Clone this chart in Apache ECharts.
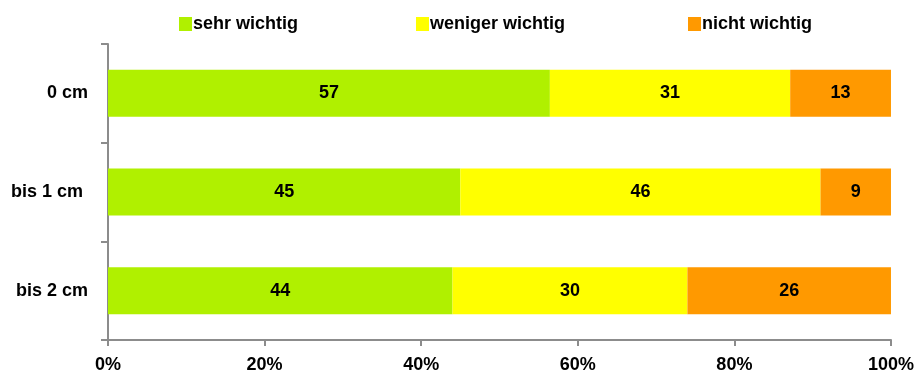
<!DOCTYPE html>
<html>
<head>
<meta charset="utf-8">
<script src="https://cdn.jsdelivr.net/npm/echarts@6/dist/echarts.min.js"></script>
<style>
  html, body { margin: 0; padding: 0; background: #fff; }
  #chart { width: 917px; height: 374px; }
</style>
</head>
<body>
<div id="chart"></div>
<script>
// Rows (top to bottom) and answer counts per row
const categories = ['0 cm', 'bis 1 cm ', 'bis 2 cm'];
const seriesNames = ['sehr wichtig', 'weniger wichtig', 'nicht wichtig'];
const sehrWichtig = [57, 45, 44];
const wenigerWichtig = [31, 46, 30];
const nichtWichtig = [13, 9, 26];
const xTicks = [0, 20, 40, 60, 80, 100];

const colors = ['#B0F000', '#FFFF00', '#FF9900'];
const values = [sehrWichtig, wenigerWichtig, nichtWichtig];

// Each row is scaled to 100 % of its own total
const rowTotals = categories.map((_, i) => values.reduce((s, arr) => s + arr[i], 0));

const FONT = '"Liberation Sans", Arial, sans-serif';
const FS = 18;
const axisColor = '#8c8c8c';

const legendLefts = [174, 411, 683];

const option = {
  animation: false,
  textStyle: { fontFamily: FONT },
  legend: seriesNames.map((name, k) => ({
    data: [name],
    left: legendLefts[k],
    top: 10,
    icon: 'rect',
    itemWidth: 13,
    itemHeight: 14,
    selectedMode: false,
    textStyle: {
      fontFamily: FONT,
      fontSize: FS,
      fontWeight: 'bold',
      color: '#000',
      padding: [0, 0, 0, -4]
    }
  })),
  grid: { left: 108, right: 25, top: 44, bottom: 32 },
  xAxis: {
    type: 'value',
    min: 0,
    max: 100,
    interval: 20,
    splitLine: { show: false },
    axisLine: { show: true, lineStyle: { color: axisColor, width: 2 } },
    axisTick: { show: true, length: 6, lineStyle: { color: axisColor, width: 2 } },
    axisLabel: {
      margin: 16,
      fontFamily: FONT,
      fontSize: FS,
      fontWeight: 'bold',
      color: '#000',
      formatter: v => (xTicks.includes(v) ? v + '%' : '')
    }
  },
  yAxis: {
    type: 'category',
    data: categories,
    inverse: true,
    axisLine: { show: true, lineStyle: { color: axisColor, width: 2 } },
    axisTick: { show: true, length: 7, lineStyle: { color: axisColor, width: 2 } },
    axisLabel: {
      margin: 20,
      fontFamily: FONT,
      fontSize: FS,
      fontWeight: 'bold',
      color: '#000'
    }
  },
  series: seriesNames.map((name, k) => ({
    name: name,
    type: 'bar',
    stack: 'total',
    barWidth: 47,
    itemStyle: { color: colors[k] },
    label: {
      show: true,
      position: 'inside',
      fontFamily: FONT,
      fontSize: FS,
      fontWeight: 'bold',
      color: '#000',
      formatter: p => String(values[k][p.dataIndex])
    },
    data: values[k].map((v, i) => (v / rowTotals[i]) * 100)
  }))
};

echarts.init(document.getElementById('chart')).setOption(option);
</script>
</body>
</html>
